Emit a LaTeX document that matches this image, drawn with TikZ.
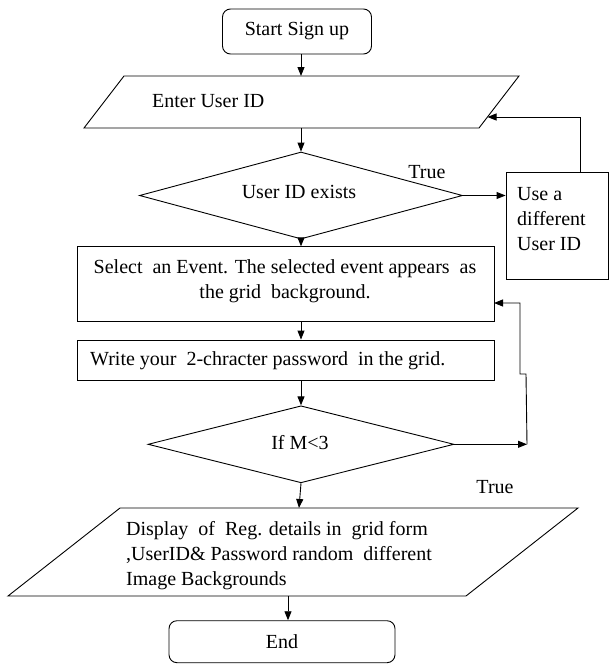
\documentclass[tikz,border=0pt]{standalone}
\usepackage{fontspec}
\setmainfont{Liberation Serif}
\usetikzlibrary{arrows.meta,shapes.geometric}
\begin{document}
\begin{tikzpicture}[x=1pt,y=-1pt,
  every node/.style={font=\fontsize{20}{25}\selectfont, inner sep=0pt},
  line/.style={draw=black, line width=0.9pt},
  arr/.style={line, -{Triangle[length=9pt,width=7pt]}},
  term/.style={line, rectangle, rounded corners=8pt},
  box/.style={line, rectangle},
  dia/.style={line, diamond, aspect=3}]
\useasboundingbox (0,0) rectangle (610,664);

% start
\node[term, minimum width=149pt, minimum height=45pt] (start) at (297,31.5) {Start Sign up};

% parallelogram 1
\coordinate (p1tl) at (124,76);
\coordinate (p1tr) at (519,76);
\coordinate (p1br) at (479,128);
\coordinate (p1bl) at (84,128);
\draw[line] (p1tl) -- (p1tr) -- (p1br) -- (p1bl) -- cycle;
\node[anchor=west] (enter) at (152,101) {Enter User ID};
\coordinate (p1top) at (301,76);
\coordinate (p1bot) at (301,128);
\coordinate (fbin) at (487.5,117);
\coordinate (fbx) at (580,0);

% diamond 1
\node[dia, minimum width=323pt, minimum height=87pt] (d1) at (301,195.5) {};
\node (d1t) at (299,192) {User ID exists};
\node (true1) at (427,172) {True};

% use different
\node[box, minimum width=102pt, minimum height=107pt] (use) at (557,225.5) {};
\node[anchor=west, align=left] (usetxt) at (517,219) {Use a\\different\\User ID};

% select
\node[box, minimum width=417pt, minimum height=75pt] (select) at (285.5,284.3) {};
\node[align=center] (seltxt) at (285,281.5) {Select\ \ an Event. The selected\ event appears\ \ as\\the grid\ \ background.};
\coordinate (selin) at (494,303);

% write
\node[box, minimum width=417pt, minimum height=40pt] (write) at (285.5,360) {};
\node[anchor=west] (wrtxt) at (90,361) {Write your\ \ 2-chracter password\ \ in the grid.};

% diamond 2
\node[dia, minimum width=306pt, minimum height=77pt] (d2) at (301,444.3) {};
\node (d2t) at (300,443) {If M<3};
\coordinate (loopa) at (527,444.3);
\coordinate (loopb) at (526,374);
\coordinate (loopc) at (520,374);
\node (true2) at (495,487) {True};

% parallelogram 2
\coordinate (p2tl) at (120,508);
\coordinate (p2tr) at (578,508);
\coordinate (p2br) at (466,596);
\coordinate (p2bl) at (8,596);
\draw[line] (p2tl) -- (p2tr) -- (p2br) -- (p2bl) -- cycle;
\node[anchor=west, align=left] (disp) at (126,556) {Display\ \ of\ \ Reg. details in\ \ grid form\\,UserID\& Password random\ \ different\\Image Backgrounds};
\coordinate (p2top) at (299,508);
\coordinate (p2bot) at (288,596);

% end
\node[term, minimum width=226pt, minimum height=42pt] (end) at (282,641.7) {End};

% connectors
\draw[arr] (start.south -| p1top) -- (p1top);
\draw[arr] (p1bot) -- (d1.north);
\draw[arr] (d1.east) -- (d1.east -| use.west);
\draw[arr] (use.north -| fbx) |- (fbin);
\draw[arr] (d1.south) -- (d1.south |- select.north);
\draw[arr] (select.south -| d1.south) -- (write.north -| d1.south);
\draw[arr] (write.south -| d2.north) -- (d2.north);
\draw[arr] (d2.east) -- (loopa);
\draw[arr] (loopa) -- (loopb) -- (loopc) |- (selin);
\draw[arr] (d2.south) -- (p2top);
\draw[arr] (p2bot) -- (end.north -| p2bot);
\end{tikzpicture}
\end{document}
